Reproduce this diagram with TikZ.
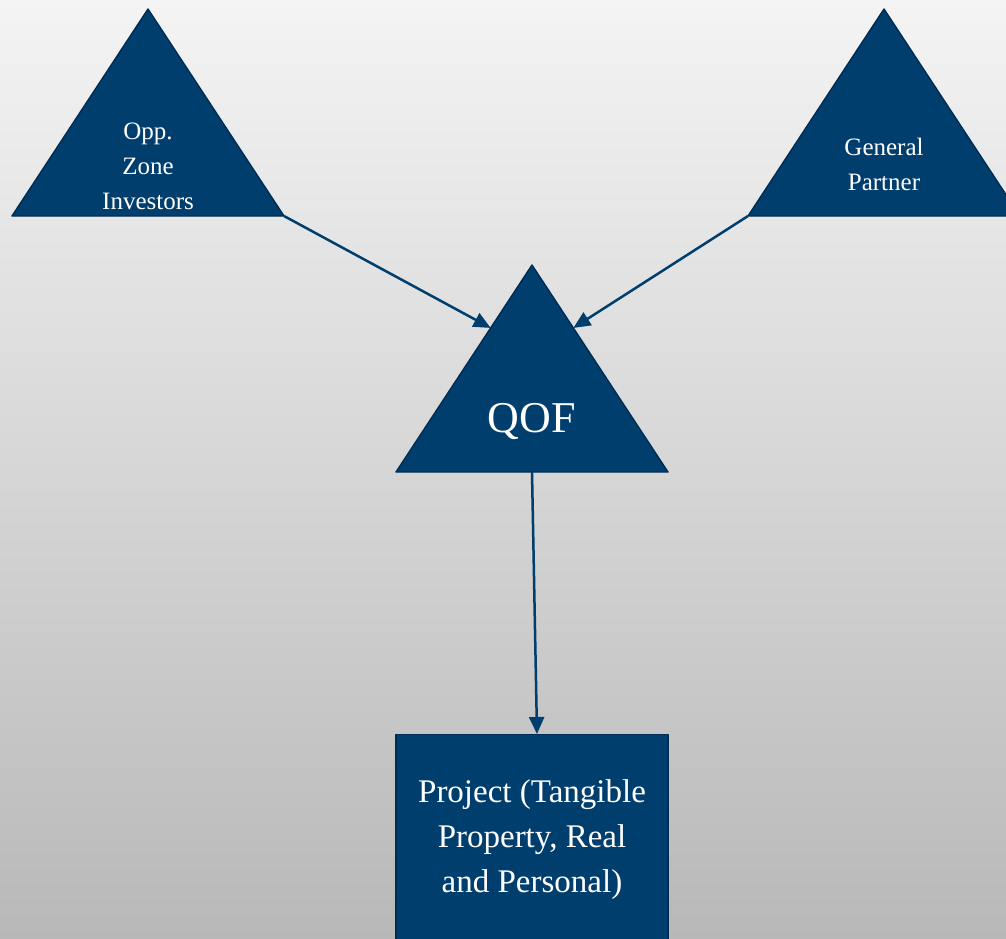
\documentclass[tikz,border=0pt]{standalone}
\usepackage{fontspec}
\setmainfont{Liberation Serif}
\usepackage{xcolor}
\usetikzlibrary{arrows.meta,positioning,calc}

\definecolor{fundblue}{RGB}{0,62,110}
\definecolor{fundedge}{RGB}{0,44,84}

\tikzset{
    tri/.style={fill=fundblue, draw=fundedge, line width=1.4pt, line join=round},
    txt/.style={text=white, align=center, font=\fontsize{25}{35}\selectfont},
    flow/.style={draw=fundblue, line width=2.5pt, -{Triangle[length=17pt,width=15pt]}}
}

% triangle with apex at (#2,#3), named #1-top, #1-left, #1-right, #1-base
\newcommand{\fundtri}[3]{
    \coordinate (#1-top) at (#2,#3);
    \coordinate (#1-left) at (#2-136,#3+207);
    \coordinate (#1-right) at (#2+136,#3+207);
    \coordinate (#1-base) at (#2,#3+207);
    \draw[tri] (#1-top) -- (#1-left) -- (#1-right) -- cycle;
}

\begin{document}
\begin{tikzpicture}[x=1pt,y=-1pt]
        % background
            \useasboundingbox (0,0) rectangle (1006,939);
            \clip (0,0) rectangle (1006,939);
            \shade[top color={rgb,255:red,244;green,244;blue,244},
                   middle color={rgb,255:red,224;green,224;blue,224},
                   bottom color={rgb,255:red,184;green,184;blue,184}]
                   (0,0) rectangle (1006,939);

            % draw the three triangles
            \fundtri{opp}{148}{9}
            \fundtri{gp}{884}{9}
            \fundtri{qof}{532}{265}

            \node[txt] (oppname) at (148,166) {Opp.\\Zone\\Investors};
            \node[txt] (gpname) at (884,164) {General\\Partner};
            \node[txt, font=\fontsize{44}{50}\selectfont] (qofname) at (532,421) {QOF};

            % project box runs off the bottom edge
            \node[tri, anchor=north, minimum width=272pt, minimum height=210pt,
                  text=white, align=center, font=\fontsize{33}{45}\selectfont]
                  (proj) at (532,734) {Project (Tangible\\Property, Real\\and Personal)};

            % arrows into the fund and down to the project
            \draw[flow] (opp-right) -- ($(qof-left)!0.696!(qof-top)$);
            \draw[flow] (gp-left) -- ($(qof-right)!0.696!(qof-top)$);
            \draw[flow] (qof-base) -- ([xshift=5pt]proj.north);

        \end{tikzpicture}
\end{document}
